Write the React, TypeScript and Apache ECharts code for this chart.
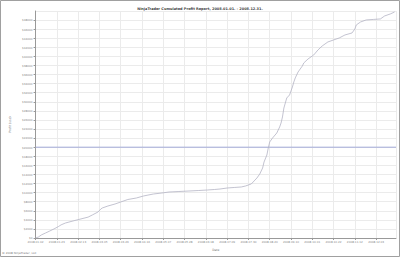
import React, { useEffect, useRef } from "react";
import * as echarts from "echarts";

const titleText = "NinjaTrader Cumulated Profit Report, 2008.01.01. - 2008.12.31.";
const copyrightText = "© 2008 NinjaTrader, LLC";
const xAxisName = "Date";
const yAxisName = "Profit (usd)";

// tick labels every 15 trading days
const tickLabels = [
  "2008.01.02", "2008.01.23", "2008.02.13", "2008.03.05", "2008.03.26",
  "2008.04.16", "2008.05.07", "2008.05.28", "2008.06.18", "2008.07.09",
  "2008.07.30", "2008.08.20", "2008.09.10", "2008.10.01", "2008.10.22",
  "2008.11.12", "2008.12.03",
];
const tickStep = 15;

// trading-day index of each point
const tradeDays = [
  0, 2, 4, 7, 10, 13, 16, 18, 21, 27, 32, 37, 40, 44, 46, 47, 51, 56, 60, 65,
  71, 76, 83, 89, 94, 101, 108, 115, 121, 126, 130, 135, 140, 145, 148, 152,
  154, 156, 158, 160, 161, 163, 164, 165, 167, 170, 172, 173, 174, 175, 177,
  179, 181, 182, 183, 185, 188, 189, 192, 196, 199, 202, 206, 210, 214, 218,
  223, 225, 226, 229, 233, 238, 243, 246, 250, 253,
];
// cumulated profit ($)
const cumulatedProfit = [
  0, 220, 660, 1100, 1540, 2000, 2500, 2900, 3300, 3800, 4200, 4600, 5070,
  5730, 6390, 6610, 7050, 7490, 7930, 8480, 8810, 9250, 9690, 9910, 10130,
  10240, 10350, 10460, 10570, 10680, 10790, 11010, 11130, 11240, 11460, 11900,
  12560, 13220, 14100, 15420, 16740, 18280, 19830, 21150, 22030, 23130, 24450,
  25330, 26660, 28640, 30840, 31510, 33270, 34370, 35250, 36570, 37890, 38550,
  39430, 40310, 41420, 42300, 43180, 43620, 44060, 44720, 45160, 46040, 46920,
  47580, 48030, 48140, 48250, 48910, 49350, 49790,
];
const referenceLevel = [20000];
const xDomain = [0, 254];

export default function App() {
  const ref = useRef<HTMLDivElement>(null);
  useEffect(() => {
    document.body.style.margin = "0";
    if (!ref.current) return;
    const chart = echarts.init(ref.current, undefined, { renderer: "svg" });
    const font = "DejaVu Sans";
    chart.setOption({
      animation: false,
      backgroundColor: "#ffffff",
      title: {
        text: titleText,
        left: "center",
        top: 2,
        textStyle: { fontSize: 3.5, fontWeight: "bold", color: "#444", fontFamily: font },
      },
      grid: { left: 20.5, right: 4, top: 11, bottom: 19 },
      xAxis: {
        type: "value",
        min: xDomain[0],
        max: xDomain[1],
        interval: tickStep,
        name: xAxisName,
        nameLocation: "middle",
        nameGap: 9,
        nameTextStyle: { fontSize: 3, color: "#777", fontFamily: font },
        axisLine: { lineStyle: { color: "#999", width: 1 } },
        axisTick: { show: true, length: 2, lineStyle: { color: "#999" } },
        axisLabel: {
          fontSize: 2.8,
          color: "#888",
          fontFamily: font,
          margin: 2,
          showMaxLabel: false,
          formatter: (v: number) => tickLabels[Math.round(v / tickStep)] ?? "",
        },
        splitLine: { show: true, lineStyle: { color: "#ebebeb", width: 1 } },
      },
      yAxis: {
        type: "value",
        min: 0,
        max: 50000,
        interval: 2000,
        name: yAxisName,
        nameLocation: "middle",
        nameGap: 14,
        nameRotate: 90,
        nameTextStyle: { fontSize: 3, color: "#777", fontFamily: font },
        axisLine: { show: true, lineStyle: { color: "#999", width: 1 } },
        axisTick: { show: true, length: 2, lineStyle: { color: "#999" } },
        axisLabel: {
          fontSize: 2.8,
          color: "#888",
          fontFamily: font,
          margin: 3,
          showMaxLabel: false,
          formatter: (v: number) => "$" + v,
        },
        splitLine: { show: true, lineStyle: { color: "#ebebeb", width: 1 } },
      },
      series: [
        {
          type: "line",
          name: "level",
          data: xDomain.map((d) => [d, referenceLevel[0]]),
          showSymbol: false,
          silent: true,
          lineStyle: { color: "#a3aad8", width: 1 },
        },
        {
          type: "line",
          name: "profit",
          data: tradeDays.map((d, i) => [d, cumulatedProfit[i]]),
          showSymbol: false,
          lineStyle: { color: "#b4b4c4", width: 0.8 },
        },
      ],
      graphic: [
        {
          type: "rect",
          shape: { x: 0.5, y: 0.5, width: 399, height: 256 },
          style: { fill: "none", stroke: "#a0a0a0", lineWidth: 1 },
          silent: true,
        },
        {
          type: "text",
          left: 2,
          top: 251,
          style: { text: copyrightText, fontSize: 2.8, fill: "#777", fontFamily: font },
        },
      ],
    });
    return () => chart.dispose();
  }, []);
  return (
    <div
      ref={ref}
      style={{ position: "absolute", left: 0, top: 0, width: 400, height: 257 }}
    />
  );
}
